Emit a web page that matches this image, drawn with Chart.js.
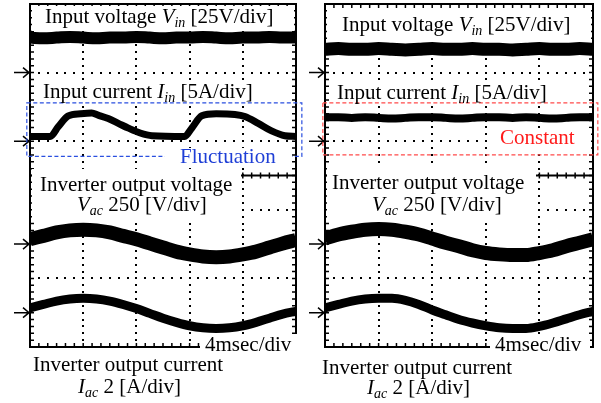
<!DOCTYPE html>
<html>
<head>
<meta charset="utf-8">
<script src="https://cdn.jsdelivr.net/npm/chart.js@4.4.1/dist/chart.umd.min.js"></script>
<style>
  body { margin: 0; background: #fff; }
  #wrap { position: relative; width: 601px; height: 403px; overflow: hidden; }
  canvas { position: absolute; left: 0; top: 0; }
  .mask { position: absolute; background: #fff; }
  .lbl { position: absolute; font-family: 'Liberation Serif', 'Times New Roman', serif; font-size: 21px; line-height: 21px; white-space: nowrap; color: #000; }
  .lbl sub { font-size: 14px; font-style: italic; line-height: 0; vertical-align: baseline; position: relative; top: 4px; }
  .blue { color: #1f3fd6; }
  .red { color: #ff1a1a; }
</style>
</head>
<body>
<div id="wrap">
  <canvas id="left-scope" width="601" height="403"></canvas>
  <canvas id="right-scope" width="601" height="403"></canvas>

  <!-- white boxes behind the labels (hide grid under the text) -->
  <div class="mask" style="left:32px;top:6px;width:262px;height:25px"></div>
  <div class="mask" style="left:40px;top:80px;width:215px;height:22px"></div>
  <div class="mask" style="left:165px;top:148px;width:127px;height:19px"></div>
  <div class="mask" style="left:32px;top:169px;width:209px;height:49px"></div>
  <div class="mask" style="left:200px;top:334px;width:100px;height:26px"></div>

  <div class="mask" style="left:327px;top:10px;width:264px;height:32px"></div>
  <div class="mask" style="left:335px;top:81px;width:215px;height:21px"></div>
  <div class="mask" style="left:492px;top:128px;width:99px;height:21px"></div>
  <div class="mask" style="left:327px;top:168px;width:209px;height:50px"></div>
  <div class="mask" style="left:490px;top:336px;width:100px;height:26px"></div>

  <!-- left panel labels -->
  <div class="lbl" style="left:45px;top:6px">Input voltage <i>V</i><sub>in</sub> [25V/div]</div>
  <div class="lbl" style="left:43px;top:81px">Input current <i>I</i><sub>in</sub> [5A/div]</div>
  <div class="lbl blue" style="left:180px;top:146px">Fluctuation</div>
  <div class="lbl" style="left:40px;top:174px">Inverter output voltage</div>
  <div class="lbl" style="left:77px;top:194px"><i>V</i><sub>ac</sub> 250 [V/div]</div>
  <div class="lbl" style="left:205px;top:334px">4msec/div</div>
  <div class="lbl" style="left:33px;top:354px">Inverter output current</div>
  <div class="lbl" style="left:78px;top:376px"><i>I</i><sub>ac</sub> 2 [A/div]</div>

  <!-- right panel labels -->
  <div class="lbl" style="left:342px;top:14px">Input voltage <i>V</i><sub>in</sub> [25V/div]</div>
  <div class="lbl" style="left:337px;top:82px">Input current <i>I</i><sub>in</sub> [5A/div]</div>
  <div class="lbl red" style="left:500px;top:127px">Constant</div>
  <div class="lbl" style="left:332px;top:172px">Inverter output voltage</div>
  <div class="lbl" style="left:372px;top:194px"><i>V</i><sub>ac</sub> 250 [V/div]</div>
  <div class="lbl" style="left:495px;top:334px">4msec/div</div>
  <div class="lbl" style="left:322px;top:357px">Inverter output current</div>
  <div class="lbl" style="left:367px;top:377px"><i>I</i><sub>ac</sub> 2 [A/div]</div>
</div>

<script>
// screen is 5 x 5 divisions, values below are in divisions from the bottom edge
const timeDiv = [0, 0.25, 0.5, 0.75, 1, 1.25, 1.5, 1.75, 2, 2.25, 2.5, 2.75, 3, 3.25, 3.5, 3.75, 4, 4.25, 4.5, 4.75, 5];

// channel ground markers (arrows on the left edge)
const groundLevels = [4, 3, 1.5, 0.5];

// left panel: fluctuating input current
const vinLeft = [4.51, 4.50, 4.51, 4.52, 4.51, 4.50, 4.51, 4.51, 4.52, 4.51, 4.50, 4.51, 4.51, 4.52, 4.51, 4.50, 4.51, 4.51, 4.52, 4.51, 4.51];
const iinLeftTime = [0, 0.38, 0.53, 0.72, 0.95, 1.16, 1.28, 1.47, 1.66, 1.85, 2.07, 2.29, 2.91, 3.04, 3.23, 3.5, 3.85, 4.04, 4.29, 4.54, 4.79, 5];
const iinLeft = [3.07, 3.07, 3.21, 3.37, 3.40, 3.41, 3.38, 3.33, 3.26, 3.19, 3.12, 3.08, 3.07, 3.19, 3.37, 3.40, 3.39, 3.36, 3.26, 3.15, 3.08, 3.07];
const vacLeft = [1.57, 1.62, 1.67, 1.70, 1.71, 1.70, 1.67, 1.62, 1.57, 1.51, 1.45, 1.39, 1.35, 1.32, 1.31, 1.32, 1.35, 1.39, 1.45, 1.51, 1.56];
const iacLeft = [0.57, 0.62, 0.67, 0.70, 0.71, 0.70, 0.67, 0.62, 0.56, 0.49, 0.42, 0.36, 0.31, 0.28, 0.27, 0.28, 0.31, 0.36, 0.42, 0.48, 0.52];

// right panel: constant input current
const vinRight = [4.34, 4.35, 4.34, 4.34, 4.35, 4.34, 4.33, 4.34, 4.35, 4.34, 4.34, 4.35, 4.34, 4.34, 4.33, 4.34, 4.35, 4.34, 4.34, 4.35, 4.34];
const iinRight = [3.35, 3.35, 3.34, 3.35, 3.34, 3.33, 3.34, 3.35, 3.35, 3.34, 3.33, 3.34, 3.35, 3.35, 3.34, 3.35, 3.34, 3.33, 3.34, 3.35, 3.35];
const vacRight = [1.58, 1.64, 1.68, 1.71, 1.72, 1.71, 1.68, 1.64, 1.58, 1.52, 1.47, 1.41, 1.37, 1.35, 1.34, 1.34, 1.37, 1.41, 1.47, 1.52, 1.57];
const iacRight = [0.57, 0.62, 0.67, 0.70, 0.71, 0.71, 0.68, 0.62, 0.54, 0.47, 0.40, 0.35, 0.31, 0.28, 0.27, 0.27, 0.30, 0.35, 0.41, 0.47, 0.52];

// Oscilloscope decorations: dotted graticule, border ticks, centre line, ground arrows, dashed box
const scopeFrame = {
    id: 'scopeFrame',
    beforeDatasetsDraw(chart) {
        const { ctx, chartArea: a, scales: { x, y } } = chart;
        ctx.save();
        ctx.fillStyle = '#000';
        // dotted graticule on the scale ticks
        x.ticks.forEach((t) => {
            if (t.value <= 0 || t.value >= 5) return;
            const px = Math.round(x.getPixelForValue(t.value));
            for (let v = 0.1; v < 4.99; v += 0.1) {
                ctx.fillRect(px - 1, Math.round(y.getPixelForValue(v)) - 1, 2, 2);
            }
        });
        y.ticks.forEach((t) => {
            if (t.value <= 0 || t.value >= 5) return;
            const py = Math.round(y.getPixelForValue(t.value));
            for (let v = 1 / 6; v < 4.99; v += 1 / 6) {
                ctx.fillRect(Math.round(x.getPixelForValue(v)) - 1, py - 1, 2, 2);
            }
        });
        // minor ticks on the frame and the centre line
        ctx.strokeStyle = '#000';
        ctx.lineWidth = 1.5;
        ctx.beginPath();
        for (let v = 0; v <= 5.001; v += 0.1) {
            const py = y.getPixelForValue(v);
            ctx.moveTo(a.left, py); ctx.lineTo(a.left + 4, py);
            ctx.moveTo(a.right, py); ctx.lineTo(a.right - 4, py);
        }
        const yc = y.getPixelForValue(2.5);
        for (let v = 0; v <= 5.001; v += 1 / 6) {
            const px = x.getPixelForValue(v);
            ctx.moveTo(px, a.top); ctx.lineTo(px, a.top + 4);
            ctx.moveTo(px, a.bottom); ctx.lineTo(px, a.bottom - 4);
            ctx.moveTo(px, yc - 3); ctx.lineTo(px, yc + 3);
        }
        ctx.stroke();
        ctx.lineWidth = 2;
        ctx.beginPath();
        ctx.moveTo(a.left, yc); ctx.lineTo(a.right, yc);
        ctx.stroke();
        ctx.restore();
    },
    afterDatasetsDraw(chart, args, opts) {
        const { ctx, chartArea: a, scales: { x, y } } = chart;
        ctx.save();
        // ground arrows
        ctx.strokeStyle = '#000';
        ctx.lineWidth = 1.5;
        ctx.beginPath();
        groundLevels.forEach((g) => {
            const py = y.getPixelForValue(g);
            ctx.moveTo(a.left - 16, py); ctx.lineTo(a.left - 1, py);
            ctx.moveTo(a.left - 7, py - 5); ctx.lineTo(a.left - 1, py); ctx.lineTo(a.left - 7, py + 5);
        });
        ctx.stroke();
        // dashed highlight box
        const b = opts.box;
        const x0 = x.getPixelForValue(b.x0), x1 = x.getPixelForValue(b.x1);
        const y0 = y.getPixelForValue(b.y0), y1 = y.getPixelForValue(b.y1);
        ctx.strokeStyle = b.color;
        ctx.lineWidth = 1.2;
        ctx.setLineDash([4, 2.5]);
        ctx.strokeRect(x0, y0, x1 - x0, y1 - y0);
        ctx.restore();
    }
};

function trace(xs, ys, width) {
    return {
        data: xs.map((v, i) => ({ x: v, y: ys[i] })),
        borderColor: '#000',
        borderWidth: width,
        pointRadius: 0,
        cubicInterpolationMode: 'monotone',
        clip: 0
    };
}

function makeScope(canvasId, padding, datasets, box) {
    const frameBorder = { display: true, width: 2, color: '#000' };
    const hidden = { display: false, drawTicks: false };
    return new Chart(document.getElementById(canvasId), {
        type: 'line',
        data: { datasets },
        options: {
            responsive: false,
            animation: false,
            events: [],
            layout: { padding },
            scales: {
                x: { type: 'linear', min: 0, max: 5, ticks: { display: false, stepSize: 1 }, grid: hidden, border: frameBorder },
                y: { type: 'linear', min: 0, max: 5, ticks: { display: false, stepSize: 1 }, grid: hidden, border: frameBorder },
                x2: { type: 'linear', position: 'top', min: 0, max: 5, ticks: { display: false }, grid: hidden, border: frameBorder },
                y2: { type: 'linear', position: 'right', min: 0, max: 5, ticks: { display: false }, grid: hidden, border: frameBorder }
            },
            plugins: {
                legend: { display: false },
                tooltip: { enabled: false },
                scopeFrame: { box }
            }
        },
        plugins: [scopeFrame]
    });
}

document.addEventListener('DOMContentLoaded', () => {
    makeScope('left-scope', { left: 30, top: 4, right: 305, bottom: 56 }, [
        trace(timeDiv, vinLeft, 12),
        trace(iinLeftTime, iinLeft, 7),
        trace(timeDiv, vacLeft, 14),
        trace(timeDiv, iacLeft, 9)
    ], { x0: -0.06, x1: 5.11, y0: 3.56, y1: 2.78, color: '#2a4fe0' });

    makeScope('right-scope', { left: 325, top: 4, right: 8, bottom: 56 }, [
        trace(timeDiv, vinRight, 13),
        trace(timeDiv, iinRight, 8),
        trace(timeDiv, vacRight, 14),
        trace(timeDiv, iacRight, 9)
    ], { x0: -0.04, x1: 5.09, y0: 3.56, y1: 2.80, color: '#ff4a4a' });
});
</script>
</body>
</html>
